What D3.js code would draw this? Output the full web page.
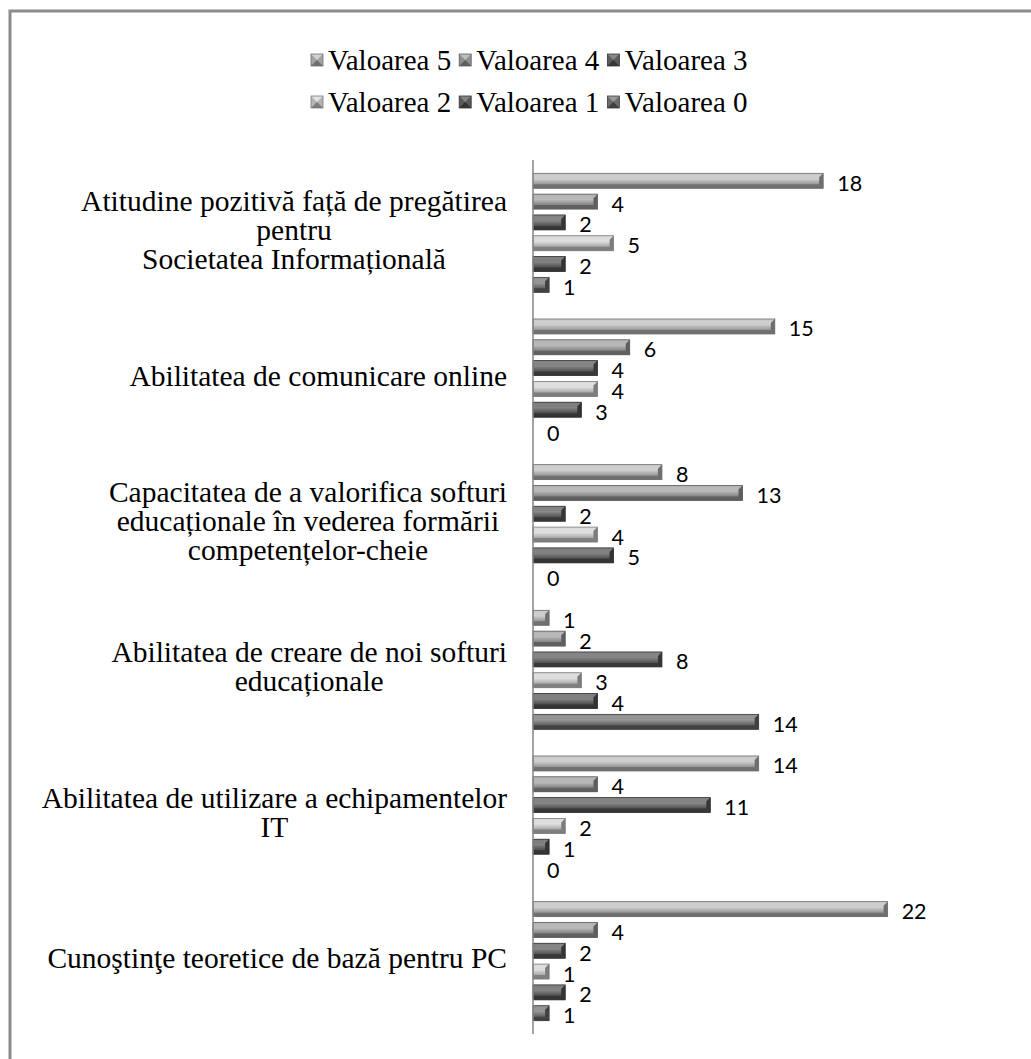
<!DOCTYPE html>
<html>
<head>
<meta charset="utf-8">
<script src="https://cdn.jsdelivr.net/npm/d3@7"></script>
<style>
  body { margin: 0; background: #fff; }
  .cat { font-family: "Liberation Serif", "Times New Roman", serif; font-size: 29.5px; fill: #000; }
  .leg { font-family: "Liberation Serif", "Times New Roman", serif; font-size: 29px; fill: #000; }
  .val { font-family: Lato, "Noto Sans", sans-serif; font-size: 21.5px; fill: #000; }
</style>
</head>
<body>
<svg id="chart" width="1031" height="1059"></svg>
<script>
// categories, top to bottom (line breaks as in the picture)
var categories = [
  "Atitudine pozitivă față de pregătirea\npentru\nSocietatea Informațională",
  "Abilitatea de comunicare online",
  "Capacitatea de a valorifica softuri\neducaționale în vederea formării\ncompetențelor-cheie",
  "Abilitatea de creare de noi softuri\neducaționale",
  "Abilitatea de utilizare a echipamentelor\nIT",
  "Cunoştinţe teoretice de bază pentru PC"
];
var seriesNames = ["Valoarea 5", "Valoarea 4", "Valoarea 3", "Valoarea 2", "Valoarea 1", "Valoarea 0"];
// one array per series, same order as categories
var valoarea5 = [18, 15, 8, 1, 14, 22];
var valoarea4 = [4, 6, 13, 2, 4, 4];
var valoarea3 = [2, 4, 2, 8, 11, 2];
var valoarea2 = [5, 4, 4, 3, 2, 1];
var valoarea1 = [2, 3, 5, 4, 1, 2];
var valoarea0 = [1, 0, 0, 14, 0, 1];
var seriesValues = [valoarea5, valoarea4, valoarea3, valoarea2, valoarea1, valoarea0];

// gray shades: [highlight, base, shadow]
var shades = [
  ["#d2d2d2", "#a2a2a2", "#6e6e6e"],
  ["#bdbdbd", "#8e8e8e", "#5e5e5e"],
  ["#8a8a8a", "#5c5c5c", "#363636"],
  ["#e2e2e2", "#b4b4b4", "#7c7c7c"],
  ["#858585", "#585858", "#333333"],
  ["#9a9a9a", "#6c6c6c", "#404040"]
];

var svg = d3.select("#chart");

// outer frame (only left and top edges visible)
svg.append("path")
  .attr("d", "M10,1059 V11 H1031")
  .attr("fill", "none")
  .attr("stroke", "#8c8c8c")
  .attr("stroke-width", 3);

var x = d3.scaleLinear().domain([0, 25]).range([533, 936]);
var y0 = d3.scaleBand().domain(d3.range(categories.length)).range([160, 1034]).padding(0);
var y1 = d3.scaleBand().domain(d3.range(seriesNames.length)).range([0, y0.bandwidth()])
  .paddingInner(0.28).paddingOuter(0.64);

var defs = svg.append("defs");
shades.forEach(function(s, i) {
  var g = defs.append("linearGradient").attr("id", "g" + i)
    .attr("x1", 0).attr("y1", 0).attr("x2", 0).attr("y2", 1);
  g.append("stop").attr("offset", "0%").attr("stop-color", s[1]);
  g.append("stop").attr("offset", "35%").attr("stop-color", s[0]);
  g.append("stop").attr("offset", "65%").attr("stop-color", s[1]);
  g.append("stop").attr("offset", "100%").attr("stop-color", s[2]);
});

// bars
var rows = [];
categories.forEach(function(c, ci) {
  seriesValues.forEach(function(vals, si) {
    rows.push({ ci: ci, si: si, v: vals[ci] });
  });
});

var bars = svg.append("g").selectAll("g.bar")
  .data(rows).enter().append("g").attr("class", "bar");

bars.each(function(d) {
  var g = d3.select(this);
  var x0 = x(0), x1 = x(d.v);
  var top = y0(d.ci) + y1(d.si), h = y1.bandwidth(), bot = top + h;
  if (d.v <= 0) return;
  var b = Math.min(4, (x1 - x0) / 2);
  // body
  g.append("rect").attr("x", x0).attr("y", top).attr("width", x1 - x0).attr("height", h)
    .attr("fill", "url(#g" + d.si + ")");
  // top bevel
  g.append("polygon")
    .attr("points", [[x0, top], [x1, top], [x1 - b, top + b], [x0, top + b]].join(" "))
    .attr("fill", shades[d.si][0]).attr("opacity", 0.8);
  // bottom bevel
  g.append("polygon")
    .attr("points", [[x0, bot], [x1, bot], [x1 - b, bot - b], [x0, bot - b]].join(" "))
    .attr("fill", shades[d.si][2]).attr("opacity", 0.9);
  // end cap
  g.append("polygon")
    .attr("points", [[x1, top], [x1, bot], [x1 - b, bot - b], [x1 - b, top + b]].join(" "))
    .attr("fill", shades[d.si][2]);
  g.append("rect").attr("x", x0).attr("y", top).attr("width", x1 - x0).attr("height", h)
    .attr("fill", "none").attr("stroke", shades[d.si][2]).attr("stroke-width", 0.8);
});

// value labels
svg.append("g").selectAll("text")
  .data(rows).enter().append("text")
  .attr("class", "val")
  .attr("x", function(d) { return x(d.v) + 14; })
  .attr("y", function(d) { return y0(d.ci) + y1(d.si) + y1.bandwidth() / 2 + 10; })
  .text(function(d) { return d.v; });

// vertical axis line
svg.append("line")
  .attr("x1", x(0)).attr("x2", x(0))
  .attr("y1", y0.range()[0]).attr("y2", y0.range()[1])
  .attr("stroke", "#868686").attr("stroke-width", 1.5);

// category labels: block right-aligned to the axis, lines centred in the block
var lineH = 29;
var labelRight = x(0) - 26;
svg.append("g").selectAll("text")
  .data(categories).enter().append("text")
  .attr("class", "cat")
  .attr("text-anchor", "middle")
  .each(function(c, i) {
    var lines = c.split("\n");
    var cy = y0(i) + y0.bandwidth() / 2;
    var startY = cy - (lines.length - 1) * lineH / 2 + 7;
    var spans = d3.select(this).selectAll("tspan").data(lines).enter().append("tspan")
      .attr("y", function(l, k) { return startY + k * lineH; })
      .text(function(l) { return l; });
    var maxW = d3.max(spans.nodes(), function(n) { return n.getComputedTextLength(); });
    spans.attr("x", labelRight - maxW / 2);
  });

// legend: two rows of three
var legendRows = [[0, 1, 2], [3, 4, 5]];
var legendY = [60, 102];
legendRows.forEach(function(row, r) {
  var cx = 311;
  row.forEach(function(si) {
    var g = svg.append("g");
    var cy = legendY[r];
    var s = 12, lx = cx, ly = cy - s / 2;
    g.append("rect").attr("x", lx).attr("y", ly).attr("width", s).attr("height", s)
      .attr("fill", shades[si][1]);
    g.append("polygon").attr("points", [[lx, ly], [lx + s, ly], [lx + s / 2, ly + s / 2]].join(" "))
      .attr("fill", shades[si][0]);
    g.append("polygon").attr("points", [[lx, ly + s], [lx + s, ly + s], [lx + s / 2, ly + s / 2]].join(" "))
      .attr("fill", shades[si][2]);
    g.append("rect").attr("x", lx).attr("y", ly).attr("width", s).attr("height", s)
      .attr("fill", "none").attr("stroke", shades[si][2]).attr("stroke-width", 0.8);
    var t = g.append("text").attr("class", "leg")
      .attr("x", cx + s + 5).attr("y", cy + 10).text(seriesNames[si]);
    cx += s + 5 + t.node().getComputedTextLength() + 8;
  });
});
</script>
</body>
</html>
